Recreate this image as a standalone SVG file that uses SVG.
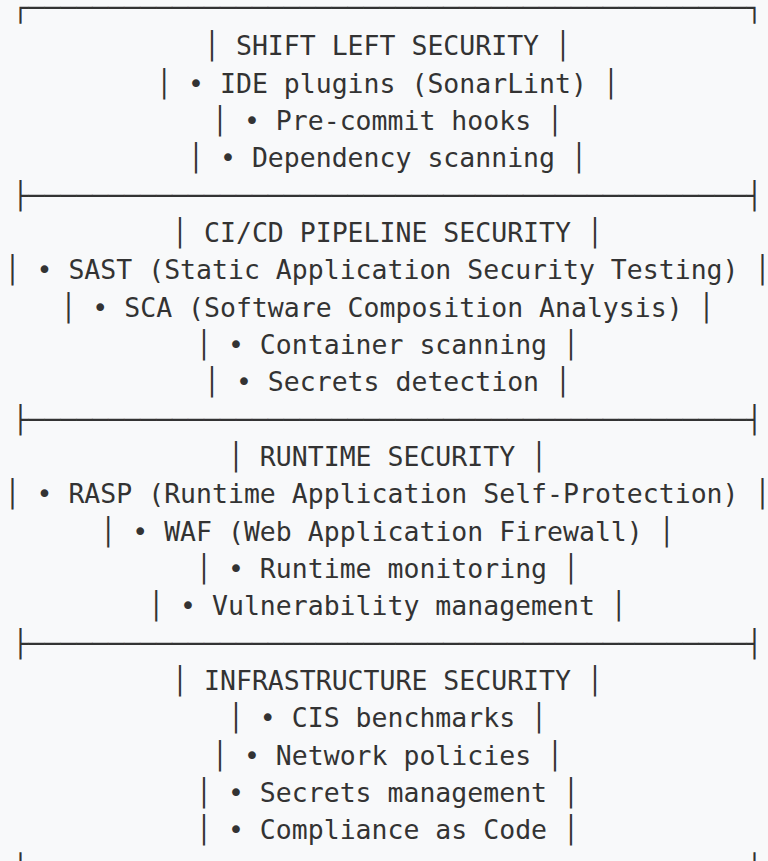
<svg xmlns="http://www.w3.org/2000/svg" width="768" height="861" viewBox="0 0 768 861">
<style>
  text { font-family: "DejaVu Sans Mono", "Liberation Mono", monospace; font-size: 26.5px; fill: #333333; text-anchor: middle; white-space: pre; }
</style>
<rect x="0" y="0" width="768" height="861" fill="#f8f9fa"/>
<g id="frame">
  <text x="387.5" y="17">┌─────────────────────────────────────────────┐</text>
  <text x="387.5" y="205">├─────────────────────────────────────────────┤</text>
  <text x="387.5" y="429">├─────────────────────────────────────────────┤</text>
  <text x="387.5" y="653">├─────────────────────────────────────────────┤</text>
  <text x="387.5" y="877">└─────────────────────────────────────────────┘</text>
</g>
<g id="shift-left">
  <text x="387.5" y="55.3">│ SHIFT LEFT SECURITY │</text>
  <text x="387.5" y="92.7">│ • IDE plugins (SonarLint) │</text>
  <text x="387.5" y="130">│ • Pre-commit hooks │</text>
  <text x="387.5" y="167.3">│ • Dependency scanning │</text>
</g>
<g id="cicd">
  <text x="387.5" y="242">│ CI/CD PIPELINE SECURITY │</text>
  <text x="387.5" y="279.3">│ • SAST (Static Application Security Testing) │</text>
  <text x="387.5" y="316.7">│ • SCA (Software Composition Analysis) │</text>
  <text x="387.5" y="354">│ • Container scanning │</text>
  <text x="387.5" y="391.3">│ • Secrets detection │</text>
</g>
<g id="runtime">
  <text x="387.5" y="466">│ RUNTIME SECURITY │</text>
  <text x="387.5" y="503.3">│ • RASP (Runtime Application Self-Protection) │</text>
  <text x="387.5" y="540.7">│ • WAF (Web Application Firewall) │</text>
  <text x="387.5" y="578">│ • Runtime monitoring │</text>
  <text x="387.5" y="615.3">│ • Vulnerability management │</text>
</g>
<g id="infrastructure">
  <text x="387.5" y="690">│ INFRASTRUCTURE SECURITY │</text>
  <text x="387.5" y="727.3">│ • CIS benchmarks │</text>
  <text x="387.5" y="764.7">│ • Network policies │</text>
  <text x="387.5" y="802">│ • Secrets management │</text>
  <text x="387.5" y="839.3">│ • Compliance as Code │</text>
</g>
</svg>
